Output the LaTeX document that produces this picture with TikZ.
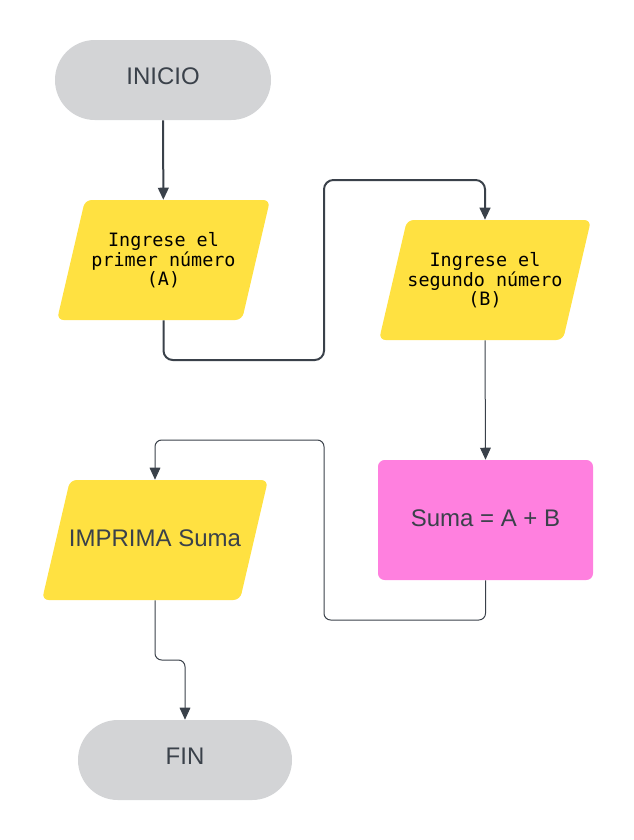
\documentclass[tikz,border=0pt]{standalone}
\usepackage{fontspec}
\setmainfont{Liberation Sans}
\newfontfamily\monofnt{DejaVu Sans Mono}
\usetikzlibrary{arrows.meta}
\definecolor{termgray}{HTML}{D3D4D6}
\definecolor{ioyellow}{HTML}{FFE141}
\definecolor{procpink}{HTML}{FF80DF}
\definecolor{inkdark}{HTML}{3A414A}
\tikzset{
  terminal/.style={rectangle, rounded corners=29.9pt, fill=termgray, minimum height=60pt,
    text=inkdark, font=\fontsize{18}{20}\selectfont, inner sep=0pt, text height=12.9pt, text depth=6.3pt},
  iobox/.style={rectangle, minimum height=90pt, inner sep=0pt, align=center,
    path picture={\fill[ioyellow, rounded corners=5pt]
      (path picture bounding box.south west) --
      ([xshift=21pt]path picture bounding box.north west) --
      (path picture bounding box.north east) --
      ([xshift=-21pt]path picture bounding box.south east) -- cycle;}},
  monotext/.style={font=\monofnt\fontsize{13.8}{13.1}\selectfont, text=black},
  bigtext/.style={text=inkdark, font=\fontsize{18}{20}\selectfont, text height=12.9pt, text depth=3pt},
  proc/.style={rectangle, rounded corners=5pt, fill=procpink, minimum height=90pt, inner sep=0pt, bigtext},
  thickflow/.style={draw=inkdark, line width=1.5pt, rounded corners=7pt, -{Triangle[length=9pt,width=8pt]}},
  thinflow/.style={draw=inkdark, line width=0.75pt, rounded corners=5pt, -{Triangle[length=9pt,width=8pt]}},
}
\begin{document}
\begin{tikzpicture}[x=0.75pt, y=-0.75pt]
\useasboundingbox (0,0) rectangle (633,840);
\node[terminal, minimum width=162pt] (ini) at (163,80) {INICIO};
\node[iobox, monotext, minimum width=159.75pt] (a) at (163.5,260) {Ingrese el\\primer número\\(A)};
\node[iobox, monotext, minimum width=159pt] (b) at (485,280) {Ingrese el\\segundo número\\(B)};
\node[proc, minimum width=161.25pt] (suma) at (485.5,520) {Suma = A + B};
\node[iobox, bigtext, minimum width=169.5pt] (imp) at (155,540) {IMPRIMA Suma};
\node[terminal, minimum width=160.5pt] (fin) at (185,760) {FIN};
\coordinate (j1) at (324,360);
\coordinate (j2) at (324,180);
\coordinate (k1) at (324,620);
\coordinate (k2) at (324,440);
\coordinate (m1) at (170,660);
\draw[thickflow] (ini) -- (a);
\draw[thickflow] (a.south) |- (j1) -- (j2) -| (b.north);
\draw[thinflow] (b.south) -- (suma.north);
\draw[thinflow] (suma.south) |- (k1) -- (k2) -| (imp.north);
\draw[thinflow] (imp.south) |- (m1) -| (fin.north);
\end{tikzpicture}
\end{document}
